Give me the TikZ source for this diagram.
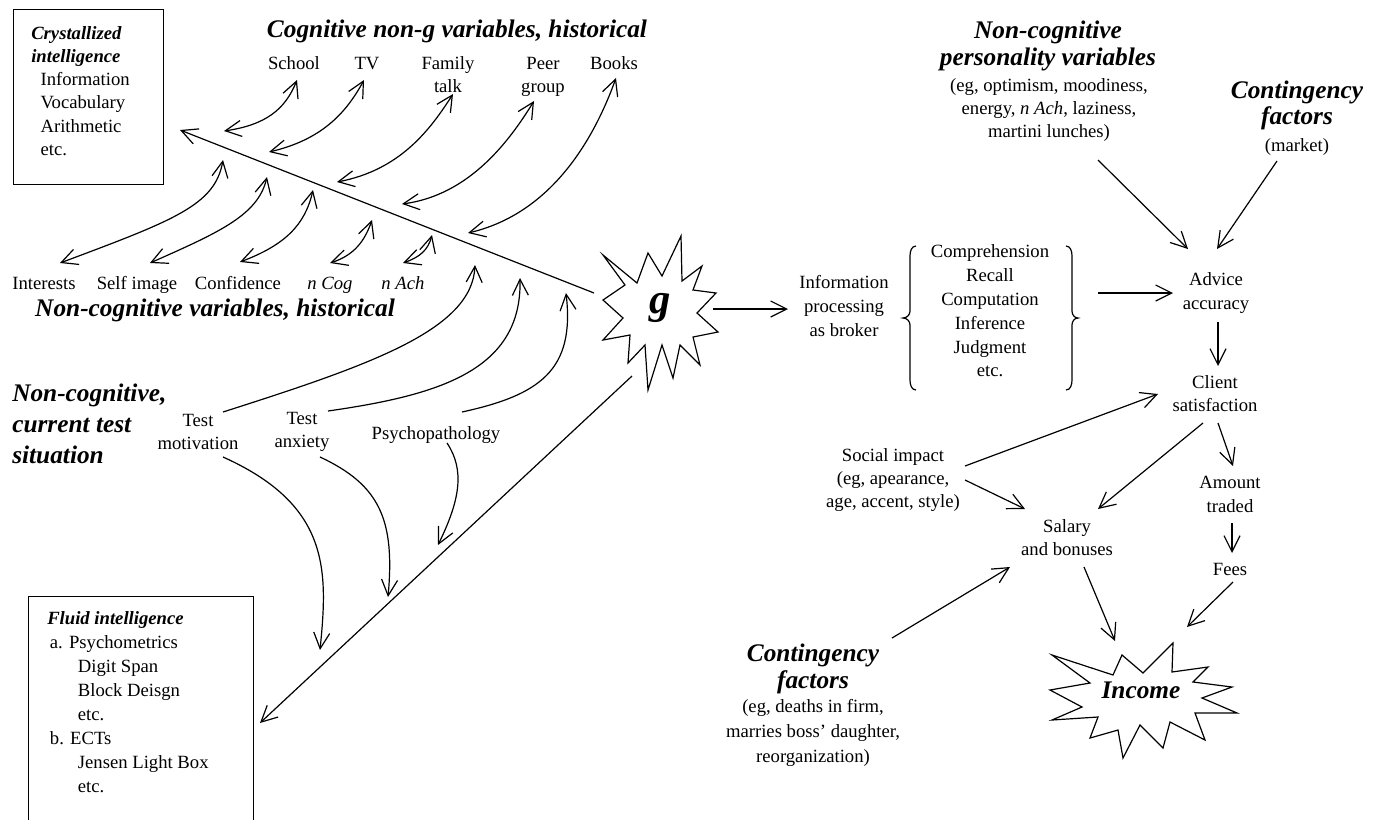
\documentclass[tikz,border=0pt]{standalone}
\usepackage{fontspec}
\setmainfont{Liberation Serif}
\usetikzlibrary{arrows.meta}
\begin{document}
\begin{tikzpicture}[x=0.75pt,y=-0.75pt,
  every node/.style={inner sep=0pt, font=\fontsize{14}{17.4}\selectfont},
  lbl/.style={text height=9.3pt, text depth=0pt},
  hd/.style={font=\fontsize{19}{20.25}\selectfont\bfseries\itshape},
  ln/.style={line width=0.9pt},
  arr/.style={ln,-{Straight Barb[length=12pt,width=12pt]}},
  dbl/.style={ln,{Straight Barb[length=12pt,width=12pt]}-{Straight Barb[length=12pt,width=12pt]}},
]
\useasboundingbox (0,0) rectangle (1385,819);
\fill[white] (0,0) rectangle (1385,819);

% Crystallized intelligence box
\node[draw, ln, anchor=north west, minimum width=112.5pt, minimum height=131.25pt] (cryst) at (13,9) {};
\node[anchor=west, align=left] (crysttxt) at (31,91) {\textbf{\textit{Crystallized}}\\\textbf{\textit{intelligence}}\\\hspace*{7pt}Information\\\hspace*{7pt}Vocabulary\\\hspace*{7pt}Arithmetic\\\hspace*{7pt}etc.};

% Fluid intelligence box
\node[draw, ln, anchor=north west, minimum width=168.75pt, minimum height=180pt] (fluid) at (28,596) {};
\node[anchor=west, align=left, font=\fontsize{14}{18}\selectfont] (fluidtxt) at (47,702) {\textbf{\textit{Fluid intelligence}}\\\hspace*{2pt}a. Psychometrics\\\hspace*{23pt}Digit Span\\\hspace*{23pt}Block Deisgn\\\hspace*{23pt}etc.\\\hspace*{2pt}b. ECTs\\\hspace*{23pt}Jensen Light Box\\\hspace*{23pt}etc.};

% g star
\draw[ln] (603,255) -- (637,283) -- (648,253) -- (662,276) -- (681,236) -- (682,281) -- (702,266) -- (693,290) -- (716,293) -- (697,313) -- (718,332) -- (693,337) -- (700,365) -- (680,345) -- (673,378) -- (662,345) -- (648,390) -- (645,345) -- (628,363) -- (630,335) -- (603,340) -- (623,318) -- (603,300) -- (625,285) -- cycle;
\node[font=\fontsize{32}{34}\selectfont\bfseries\itshape] (g) at (660,308) {g};

% headings
\node[hd] (cogh) at (457,31) {Cognitive non-g variables, historical};
\node[hd] (noncogh) at (215,310) {Non-cognitive variables, historical};
\node[hd, align=left, anchor=west, font=\fontsize{19}{23.25}\selectfont\bfseries\itshape] (testh) at (12,424) {Non-cognitive,\\current test\\situation};

% top labels
\node[lbl] (school) at (294,63) {School};
\node[lbl] (tv) at (367,63) {TV};
\node[align=center] (family) at (448,75) {Family\\talk};
\node[align=center] (peer) at (543,77) {Peer\\group};
\node[lbl] (books) at (614,63) {Books};

% bottom labels
\node[lbl] (interests) at (44,283) {Interests};
\node[lbl] (selfimage) at (137,283) {Self image};
\node[lbl] (confidence) at (238,283) {Confidence};
\node[lbl] (ncog) at (330,283) {\textit{n Cog}};
\node[lbl] (nach) at (403,283) {\textit{n Ach}};

% main spine
\draw[arr] (594,293) -- (180,130);

% top branches
\draw[dbl] (224,131) .. controls (265,125) and (285,110) .. (297,80);
\draw[dbl] (269,152) .. controls (320,140) and (345,115) .. (364,80);
\draw[dbl] (337,182) .. controls (400,170) and (430,130) .. (453,94);
\draw[dbl] (402,204) .. controls (470,195) and (510,140) .. (534,101);
\draw[dbl] (468,233) .. controls (545,215) and (590,150) .. (616,78);

% bottom branches
\draw[dbl] (60,263) .. controls (175,220) and (215,205) .. (223,160);
\draw[dbl] (150,263) .. controls (220,232) and (258,215) .. (267,177);
\draw[dbl] (240,262) .. controls (285,245) and (305,225) .. (313,190);
\draw[dbl] (330,263) .. controls (355,255) and (365,240) .. (372,220);
\draw[dbl] (403,263) .. controls (420,257) and (428,250) .. (432,235);

% test situation
\node[align=center] (tmot) at (198,432) {Test\\motivation};
\node[align=center] (tanx) at (302,432) {Test\\anxiety};
\node[lbl] (psy) at (436,433) {Psychopathology};

\draw[arr] (223,412) .. controls (370,365) and (472,330) .. (475,265);
\draw[arr] (328,411) .. controls (440,395) and (522,370) .. (520,278);
\draw[arr] (462,412) .. controls (540,395) and (575,370) .. (566,293);
\draw[arr] (223,457) .. controls (330,505) and (328,570) .. (320,650);
\draw[arr] (320,457) .. controls (380,485) and (395,520) .. (388,597);
\draw[arr] (447,443) .. controls (465,470) and (460,500) .. (438,545);

% g to fluid
\draw[arr] (632,376) -- (260,723);

% right side
\draw[arr] (713,309) -- (788,309);
\node[align=center, font=\fontsize{14}{18}\selectfont] (info) at (844,306) {Information\\processing\\as broker};

\node[align=center, font=\fontsize{14}{17.85}\selectfont] (list) at (990,311) {Comprehension\\Recall\\Computation\\Inference\\Judgment\\etc.};
\draw[ln] (916,246) to[out=180,in=90] (910,256) -- (910,311) to[out=-90,in=0] (903,318) to[out=0,in=90] (910,325) -- (910,380) to[out=-90,in=180] (916,390);
\draw[ln] (1066,246) to[out=0,in=90] (1072,256) -- (1072,311) to[out=-90,in=180] (1078,318) to[out=180,in=90] (1072,325) -- (1072,380) to[out=-90,in=0] (1066,390);
\draw[arr] (1098,293) -- (1173,293);

\node[align=center] (advice) at (1216,293) {Advice\\accuracy};

\node[hd, align=center] (pers) at (1048,45.5) {Non-cognitive\\personality variables};
\node[align=center, font=\fontsize{14}{17.25}\selectfont] (persx) at (1049,110) {(eg, optimism, moodiness,\\energy, \textit{n Ach}, laziness,\\martini lunches)};
\node[hd, align=center, font=\fontsize{19}{19.5}\selectfont\bfseries\itshape] (cont1) at (1297,105) {Contingency\\factors};
\node (market) at (1297,147) {(market)};
\draw[arr] (1098,160) -- (1188,249);
\draw[arr] (1277,161) -- (1217,249);

\node[align=center] (client) at (1215,393.5) {Client\\satisfaction};
\draw[arr] (1218,322) -- (1218,366);
\node[align=center] (amount) at (1230,494.5) {Amount\\traded};
\draw[arr] (1218,423) -- (1233,466);
\draw[arr] (1232,523) -- (1232,553);
\node[lbl] (fees) at (1230,569) {Fees};
\draw[arr] (1233,582) -- (1187,627);
\node[align=center] (salary) at (1067,537.5) {Salary\\and bonuses};
\draw[arr] (1203,423) -- (1098,509);
\draw[arr] (1084,567) -- (1115,641);
\node[align=center] (social) at (893,480) {Social impact\\(eg, apearance,\\age, accent, style)};
\draw[arr] (965,466) -- (1158,394);
\draw[arr] (965,480) -- (1025,509);

\node[hd, align=center] (cont2) at (813,668.5) {Contingency\\factors};
\node[align=center, font=\fontsize{14}{18.75}\selectfont] (cont2x) at (813,733) {(eg, deaths in firm,\\marries boss’ daughter,\\reorganization)};
\draw[arr] (892,638) -- (1010,567);

% Income star
\draw[ln] (1052,655) -- (1113,675) -- (1122,655) -- (1143,673) -- (1173,643) -- (1172,672) -- (1208,667) -- (1193,682) -- (1232,687) -- (1202,698) -- (1237,713) -- (1195,713) -- (1205,740) -- (1170,722) -- (1163,748) -- (1140,725) -- (1123,758) -- (1118,730) -- (1090,738) -- (1098,717) -- (1052,720) -- (1082,707) -- (1050,690) -- (1090,683) -- cycle;
\node[font=\fontsize{19}{20}\selectfont\bfseries\itshape] (income) at (1141,690) {Income};
\end{tikzpicture}
\end{document}
